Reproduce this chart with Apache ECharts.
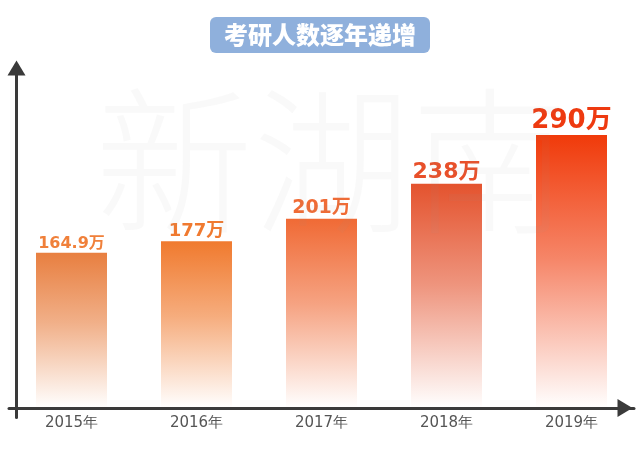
<!DOCTYPE html>
<html>
<head>
<meta charset="utf-8">
<style>html,body{margin:0;padding:0;background:#fff}#c{width:640px;height:450px}</style>
<script src="https://cdn.jsdelivr.net/npm/echarts@6/dist/echarts.min.js"></script>
</head>
<body>
<div id="c"></div>
<script>
var categories = ['2015年', '2016年', '2017年', '2018年', '2019年'];
var values = [164.9, 177, 201, 238, 290];
var valueLabels = ['164.9万', '177万', '201万', '238万', '290万'];
var titleText = '考研人数逐年递增';
var watermark = '新湖南';

var topColors = ['#e87f40', '#f07a2e', '#f06a35', '#e4532e', '#f03a0a'];
var labelColors = ['#f0803a', '#f07a30', '#f06b35', '#e8502a', '#ee3a10'];
var labelSizes = [16, 18, 19, 22, 26];

function hexA(h, a) {
  var r = parseInt(h.substr(1, 2), 16), g = parseInt(h.substr(3, 2), 16), b = parseInt(h.substr(5, 2), 16);
  return 'rgba(' + r + ',' + g + ',' + b + ',' + a + ')';
}

var data = values.map(function (v, i) {
  return {
    value: v,
    itemStyle: {
      color: new echarts.graphic.LinearGradient(0, 0, 0, 1, [
        { offset: 0, color: hexA(topColors[i], 1) },
        { offset: 0.45, color: hexA(topColors[i], 0.62) },
        { offset: 1, color: hexA(topColors[i], 0.0) }
      ])
    },
    label: {
      formatter: valueLabels[i],
      color: labelColors[i],
      fontSize: labelSizes[i]
    }
  };
});

var chart = echarts.init(document.getElementById('c'));
chart.setOption({
  backgroundColor: '#fff',
  animation: false,
  title: {
    text: titleText,
    left: 'center',
    top: 17,
    backgroundColor: '#8fb0dc',
    borderRadius: 6,
    padding: [5, 14, 5, 14],
    textStyle: {
      color: '#fff',
      fontSize: 24,
      fontWeight: 900,
      fontFamily: 'Noto Sans CJK SC',
      lineHeight: 26
    }
  },
  graphic: [{
    type: 'text',
    left: 95,
    top: 82,
    z: 100,
    silent: true,
    style: {
      text: watermark,
      fontSize: 158,
      fontFamily: 'Noto Sans CJK SC',
      fontWeight: 300,
      fill: 'rgba(150,150,150,0.06)'
    }
  }],
  grid: { left: 9, right: 6, top: 68, bottom: 32.5 },
  xAxis: {
    type: 'category',
    data: categories,
    axisLine: {
      onZero: true,
      lineStyle: { color: '#3a3a3a', width: 3 },
      symbol: ['none', 'triangle'],
      symbolSize: [18, 15],
      symbolOffset: [0, -9]
    },
    axisTick: { show: false },
    axisLabel: {
      color: '#555',
      fontSize: 15,
      fontFamily: 'DejaVu Sans',
      margin: -2
    }
  },
  yAxis: {
    type: 'value',
    min: -10,
    max: 361,
    offset: -7.5,
    axisLine: {
      show: true,
      lineStyle: { color: '#3a3a3a', width: 3 },
      symbol: ['none', 'triangle'],
      symbolSize: [18, 15]
    },
    axisTick: { show: false },
    axisLabel: { show: false },
    splitLine: { show: false }
  },
  series: [{
    type: 'bar',
    barWidth: 71,
    data: data,
    label: {
      show: true,
      position: 'top',
      distance: 1,
      fontWeight: 'bold',
      fontFamily: 'DejaVu Sans, Noto Sans CJK SC'
    }
  }]
});
</script>
</body>
</html>
